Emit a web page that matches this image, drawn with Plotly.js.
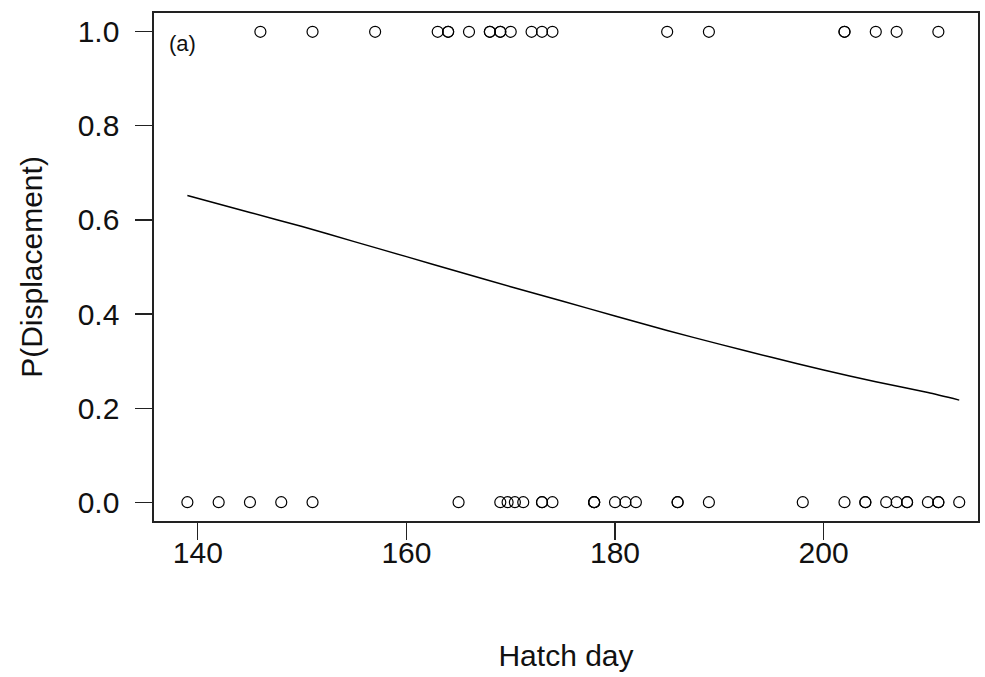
<!DOCTYPE html>
<html>
<head>
<meta charset="utf-8">
<script src="https://cdn.plot.ly/plotly-3.0.1.min.js"></script>
<style>html,body{margin:0;padding:0;background:#fff;}#chart{width:985px;height:677px;}</style>
</head>
<body>
<div id="chart"></div>
<script>
// Observed hatch days, displaced (P = 1)
const displacedDays = [146, 151, 157, 163, 164, 164, 166, 168, 168, 169, 169, 170, 172, 173, 174, 185, 189, 202, 202, 205, 207, 211];
// Observed hatch days, not displaced (P = 0)
const stayedDays = [139, 142, 145, 148, 151, 165, 169, 169.7, 170.4, 171.2, 173, 173, 174, 178, 178, 178, 180, 181, 182, 186, 186, 189, 198, 202, 204, 204, 206, 207, 208, 208, 210, 211, 211, 213];
// Fitted curve
const fitDays = [139, 145, 150, 155, 160, 165, 170, 175, 180, 185, 190, 195, 200, 205, 210, 213];
const fitProb = [0.652, 0.616, 0.586, 0.554, 0.522, 0.490, 0.458, 0.427, 0.396, 0.365, 0.336, 0.308, 0.281, 0.256, 0.233, 0.217];
const xTicks = [140, 160, 180, 200];
const yTicks = [0.0, 0.2, 0.4, 0.6, 0.8, 1.0];
const yTickText = ["0.0", "0.2", "0.4", "0.6", "0.8", "1.0"];

const markerStyle = {symbol: 'circle-open', size: 11, color: '#000', line: {width: 1.2, color: '#000'}};

const traces = [
  {x: displacedDays, y: displacedDays.map(() => 1), type: 'scatter', mode: 'markers', marker: markerStyle, hoverinfo: 'x+y'},
  {x: stayedDays, y: stayedDays.map(() => 0), type: 'scatter', mode: 'markers', marker: markerStyle, hoverinfo: 'x+y'},
  {x: fitDays, y: fitProb, type: 'scatter', mode: 'lines', line: {color: '#000', width: 1.5, shape: 'spline', smoothing: 0.6}}
];

const fam = 'Liberation Sans, Arial, sans-serif';
const font = {family: fam, size: 30, color: '#111'};

const layout = {
  width: 985, height: 677,
  margin: {l: 154, r: 7, t: 13, b: 156},
  paper_bgcolor: '#fff', plot_bgcolor: '#fff',
  showlegend: false,
  font: font,
  xaxis: {
    range: [135.8, 214.8], tickvals: xTicks, ticktext: xTicks.map(String),
    showgrid: false, zeroline: false,
    showline: true, linecolor: '#222', linewidth: 1.6, mirror: true,
    ticks: 'outside', ticklen: 17, tickwidth: 1.2, tickcolor: '#222',
    ticklabelstandoff: -13,
    tickfont: font,
    title: {text: 'Hatch day', font: font, standoff: 77}
  },
  yaxis: {
    range: [-0.04, 1.04], tickvals: yTicks, ticktext: yTickText,
    showgrid: false, zeroline: false,
    showline: true, linecolor: '#222', linewidth: 1.6, mirror: true,
    ticks: 'outside', ticklen: 17, tickwidth: 1.2, tickcolor: '#222',
    ticklabelstandoff: 10,
    tickfont: font,
    title: {text: 'P(Displacement)', font: font, standoff: 26}
  },
  annotations: [{
    text: '(a)', xref: 'paper', yref: 'paper', x: 0.016, y: 0.94,
    xanchor: 'left', yanchor: 'middle', showarrow: false,
    font: {family: fam, size: 22, color: '#111'}
  }]
};

Plotly.newPlot('chart', traces, layout, {displayModeBar: false, staticPlot: true});
</script>
</body>
</html>
